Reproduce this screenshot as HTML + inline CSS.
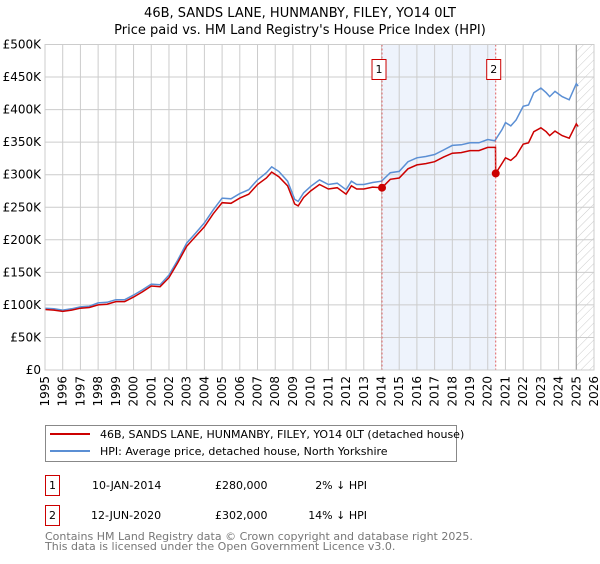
<!DOCTYPE html>
<html><head><meta charset="utf-8"><style>
body{margin:0;background:#fff;font-family:"DejaVu Sans","Liberation Sans",sans-serif;}
svg text{font-family:"DejaVu Sans","Liberation Sans",sans-serif;}
</style></head><body>
<svg id="chart" width="600" height="560" xmlns="http://www.w3.org/2000/svg">
<defs>
<pattern id="hatch" width="6" height="6" patternUnits="userSpaceOnUse" patternTransform="rotate(45)">
<line x1="0" y1="0" x2="0" y2="6" stroke="#ccc" stroke-width="1"/>
</pattern>
</defs>
<text x="300" y="17" font-size="13" text-anchor="middle" fill="#000">46B, SANDS LANE, HUNMANBY, FILEY, YO14 0LT</text>
<text x="300" y="34" font-size="13" text-anchor="middle" fill="#000">Price paid vs. HM Land Registry's House Price Index (HPI)</text>
<g id="plot"></g>
<g>
<rect x="45.5" y="425.5" width="411" height="36" fill="#fff" stroke="#888"/>
<line x1="50" y1="434" x2="90" y2="434" stroke="#cc0000" stroke-width="2"/>
<text x="100" y="438" font-size="11">46B, SANDS LANE, HUNMANBY, FILEY, YO14 0LT (detached house)</text>
<line x1="50" y1="451" x2="90" y2="451" stroke="#5b8fd4" stroke-width="2"/>
<text x="100" y="455" font-size="11">HPI: Average price, detached house, North Yorkshire</text>
</g>
<g font-size="11">
<rect x="45.5" y="475.5" width="14" height="20" fill="#fff" stroke="#cc0000"/>
<text x="52.5" y="489" text-anchor="middle">1</text>
<text x="92" y="489">10-JAN-2014</text>
<text x="215" y="489">£280,000</text>
<text x="367" y="489" text-anchor="end">2% ↓ HPI</text>
<rect x="45.5" y="505.5" width="14" height="20" fill="#fff" stroke="#cc0000"/>
<text x="52.5" y="519" text-anchor="middle">2</text>
<text x="91" y="519">12-JUN-2020</text>
<text x="215" y="519">£302,000</text>
<text x="367" y="519" text-anchor="end">14% ↓ HPI</text>
</g>
<text x="45" y="540" font-size="11" fill="#777">Contains HM Land Registry data © Crown copyright and database right 2025.</text>
<text x="45" y="550" font-size="11" fill="#777">This data is licensed under the Open Government Licence v3.0.</text>
</svg>
<script>
const dates=[1995,1995.5,1996,1996.5,1997,1997.5,1998,1998.5,1999,1999.5,2000,2000.5,2001,2001.5,2002,2002.5,2003,2003.5,2004,2004.5,2005,2005.5,2006,2006.5,2007,2007.5,2007.8,2008.2,2008.7,2009.1,2009.3,2009.6,2010,2010.5,2011,2011.5,2012,2012.3,2012.6,2013,2013.5,2014,2014.5,2015,2015.5,2016,2016.5,2017,2017.5,2018,2018.5,2019,2019.5,2020,2020.4,2020.8,2021,2021.3,2021.6,2022,2022.3,2022.6,2023,2023.3,2023.5,2023.8,2024.2,2024.6,2025,2025.1];
const hpi=[95,94,92,94,97,98,103,104,108,108,115,123,132,131,146,169,195,210,226,246,264,263,271,277,292,303,312,305,290,262,259,272,282,292,285,287,277,290,285,285,288,290,303,305,320,326,328,331,338,345,346,349,349,354,352,369,380,375,384,405,407,426,433,426,420,428,420,415,440,436];
const redDates=[1995,1995.5,1996,1996.5,1997,1997.5,1998,1998.5,1999,1999.5,2000,2000.5,2001,2001.5,2002,2002.5,2003,2003.5,2004,2004.5,2005,2005.5,2006,2006.5,2007,2007.5,2007.8,2008.2,2008.7,2009.1,2009.3,2009.6,2010,2010.5,2011,2011.5,2012,2012.3,2012.6,2013,2013.5,2014.03,2014.5,2015,2015.5,2016,2016.5,2017,2017.5,2018,2018.5,2019,2019.5,2020,2020.44,2020.45,2020.8,2021,2021.3,2021.6,2022,2022.3,2022.6,2023,2023.3,2023.5,2023.8,2024.2,2024.6,2025,2025.1];
const red=[93,92,90,92,95,96,100,101,105,105,112,120,129,128,142,165,190,205,220,240,257,256,264,270,285,295,304,297,283,255,252,265,275,285,278,280,270,283,278,278,281,280,293,295,309,315,317,320,327,333,334,337,337,342,342,302,317,326,322,329,347,349,366,372,366,360,367,360,356,378,374];
const saleDates=[2014.03,2020.45];
const salePrices=[280,302];
const saleLabels=["1","2"];
const yTicks=[0,50,100,150,200,250,300,350,400,450,500];
const yTickLabels=["£0","£50K","£100K","£150K","£200K","£250K","£300K","£350K","£400K","£450K","£500K"];
const xTicks=[1995,1996,1997,1998,1999,2000,2001,2002,2003,2004,2005,2006,2007,2008,2009,2010,2011,2012,2013,2014,2015,2016,2017,2018,2019,2020,2021,2022,2023,2024,2025,2026];

const L=45,R=594,T=44.5,B=370;
const x=v=>L+(v-1995)/(2026-1995)*(R-L);
const y=v=>B-v/500*(B-T);
const NS="http://www.w3.org/2000/svg";
const g=document.getElementById('plot');
function mk(tag,attrs,parent){const e=document.createElementNS(NS,tag);for(const k in attrs)e.setAttribute(k,attrs[k]);(parent||g).appendChild(e);return e;}

let e=mk('rect',{x:x(saleDates[0]),y:T,width:x(saleDates[1])-x(saleDates[0]),height:B-T,fill:'#eef3fc'});


e=mk('rect',{x:x(2025.0),y:T,width:R-x(2025.0),height:B-T,fill:'url(#hatch)'});



yTicks.forEach((v,i)=>{
  let l=mk('line',{x1:L,x2:R,y1:y(v),y2:y(v),stroke:'#ccc','stroke-width':1});
  
  
  let t=mk('text',{x:L-4,y:y(v)+4,'font-size':12,'text-anchor':'end',fill:'#000'});
  t.textContent=yTickLabels[i];
  
  
});
xTicks.forEach(v=>{
  let l=mk('line',{x1:x(v),x2:x(v),y1:T,y2:B,stroke:'#ccc','stroke-width':1});
  
  
  let t=mk('text',{x:0,y:0,'font-size':12,'text-anchor':'end',fill:'#000',transform:`translate(${x(v)+4},${B+6}) rotate(-90)`});
  t.textContent=v;
  
  
});
e=mk('line',{x1:x(2025),x2:x(2025),y1:T,y2:B,stroke:'#999','stroke-width':1});



function path(ds,vs){return ds.map((d,i)=>(i?'L':'M')+x(d).toFixed(1)+','+y(vs[i]).toFixed(1)).join('');}
e=mk('path',{d:path(dates,hpi),fill:'none',stroke:'#5b8fd4','stroke-width':1.5});


e=mk('path',{d:path(redDates,red),fill:'none',stroke:'#cc0000','stroke-width':1.5});



saleDates.forEach((d,i)=>{
  let l=mk('line',{x1:x(d),x2:x(d),y1:T,y2:B,stroke:'#e06060','stroke-width':1,'stroke-dasharray':'2,2'});
  
  
  let c=mk('circle',{cx:x(d),cy:y(salePrices[i]),r:4,fill:'#cc0000'});
  
  
  let r=mk('rect',{x:x(d)-10.5,y:59.5,width:14,height:20,fill:'#fff',stroke:'#cc0000'});
  r.setAttribute('x',x(d)-7-(i===0?3:2));
  
  
  let t=mk('text',{x:x(d)-(i===0?3:2),y:73,'font-size':11,'text-anchor':'middle',fill:'#000'});
  t.textContent=saleLabels[i];
  
  
});
e=mk('rect',{x:L,y:T,width:R-L,height:B-T,fill:'none',stroke:'#ccc'});


</script>
</body></html>
